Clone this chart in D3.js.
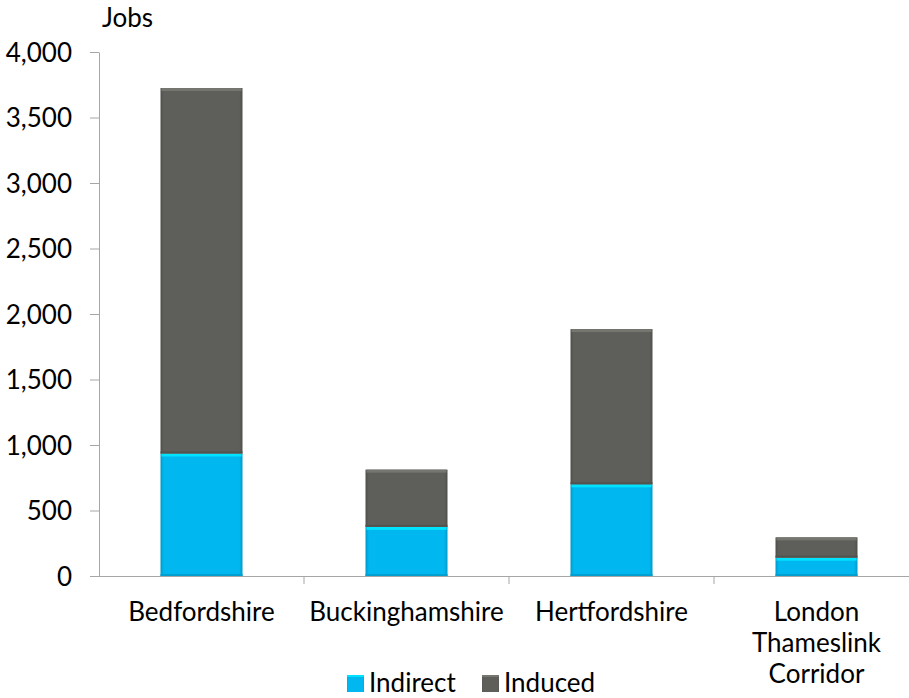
<!DOCTYPE html>
<html><head><meta charset="utf-8">
<script src="https://cdn.jsdelivr.net/npm/d3@7"></script>
<style>body{margin:0;background:#fff}text{font-family:Lato,"Open Sans",sans-serif;fill:#000}</style>
</head><body>
<svg id="c" width="909" height="698"></svg>
<script>
const categories = ["Bedfordshire","Buckinghamshire","Hertfordshire","London Thameslink Corridor"];
const categoryLines = [["Bedfordshire"],["Buckinghamshire"],["Hertfordshire"],["London","Thameslink","Corridor"]];
const indirect = [935, 375, 700, 140];
const induced = [2790, 437, 1185, 155];
const seriesNames = ["Indirect","Induced"];
const seriesColors = ["#00B7EF","#5E5F5A"];
const yTicks = [0,500,1000,1500,2000,2500,3000,3500,4000];

const FS = 26;
const svg = d3.select("#c");
const x = d3.scaleBand().domain(categories).range([99, 919]).padding(0);
const y = d3.scaleLinear().domain([0,4000]).range([576, 52]);

const defs = svg.append("defs");
seriesColors.forEach((c,i)=>{
  const g = defs.append("linearGradient").attr("id","g"+i).attr("x1",0).attr("x2",1).attr("y1",0).attr("y2",0);
  const dark = d3.color(c).darker(0.5);
  g.append("stop").attr("offset","0%").attr("stop-color",dark);
  g.append("stop").attr("offset","4%").attr("stop-color",c);
  g.append("stop").attr("offset","96%").attr("stop-color",c);
  g.append("stop").attr("offset","100%").attr("stop-color",dark);
});

// y axis
const yAxis = d3.axisLeft(y).tickValues(yTicks).tickSize(9).tickSizeOuter(0).tickFormat(d3.format(","));
const ya = svg.append("g").attr("transform","translate(99,0)").call(yAxis);
ya.select(".domain").attr("stroke","#A6A6A6");
ya.selectAll(".tick line").attr("stroke","#A6A6A6");
ya.selectAll(".tick text").attr("x",-27).attr("font-size",FS).attr("fill","#000").attr("dy","0.36em");

// bars
const stacks = categories.map((c,i)=>({c, segs:[{s:0,y0:0,y1:indirect[i]},{s:1,y0:indirect[i],y1:indirect[i]+induced[i]}]}));
const bw = x.bandwidth()*0.4, off = x.bandwidth()*0.3;
stacks.forEach(st=>{
  st.segs.forEach(sg=>{
    const bx = x(st.c)+off, top = y(sg.y1), h = y(sg.y0)-y(sg.y1);
    svg.append("rect").attr("x",bx).attr("y",top).attr("width",bw).attr("height",h).attr("fill","url(#g"+sg.s+")");
    svg.append("rect").attr("x",bx+1).attr("y",top).attr("width",bw-2).attr("height",Math.min(3,h)).attr("fill",d3.color(seriesColors[sg.s]).brighter(0.6));
    svg.append("rect").attr("x",bx).attr("y",top+h-2).attr("width",bw).attr("height",2).attr("fill",d3.color(seriesColors[sg.s]).darker(0.4));
  });
});

// x axis
svg.append("line").attr("x1",99).attr("x2",909).attr("y1",576.5).attr("y2",576.5).attr("stroke","#A6A6A6");
categories.slice(1).forEach(c=>{
  svg.append("line").attr("x1",x(c)).attr("x2",x(c)).attr("y1",576).attr("y2",584).attr("stroke","#A6A6A6");
});
categories.forEach((c,i)=>{
  const cx = x(c)+x.bandwidth()/2;
  const t = svg.append("text").attr("text-anchor","middle").attr("font-size",FS).attr("x",cx).attr("y",621);
  categoryLines[i].forEach((l,j)=>t.append("tspan").attr("x",cx).attr("dy",j?31:0).text(l));
});

svg.append("text").attr("x",102).attr("y",27).attr("font-size",FS).text("Jobs");

// legend
const lx = [347, 482];
seriesNames.forEach((n,i)=>{
  svg.append("rect").attr("x",lx[i]).attr("y",675).attr("width",17).attr("height",17).attr("fill","url(#g"+i+")");
  svg.append("rect").attr("x",lx[i]).attr("y",675).attr("width",17).attr("height",2).attr("fill",d3.color(seriesColors[i]).brighter(0.6));
  svg.append("text").attr("x",lx[i]+22).attr("y",692).attr("font-size",FS).text(n);
});
</script>
</body></html>
